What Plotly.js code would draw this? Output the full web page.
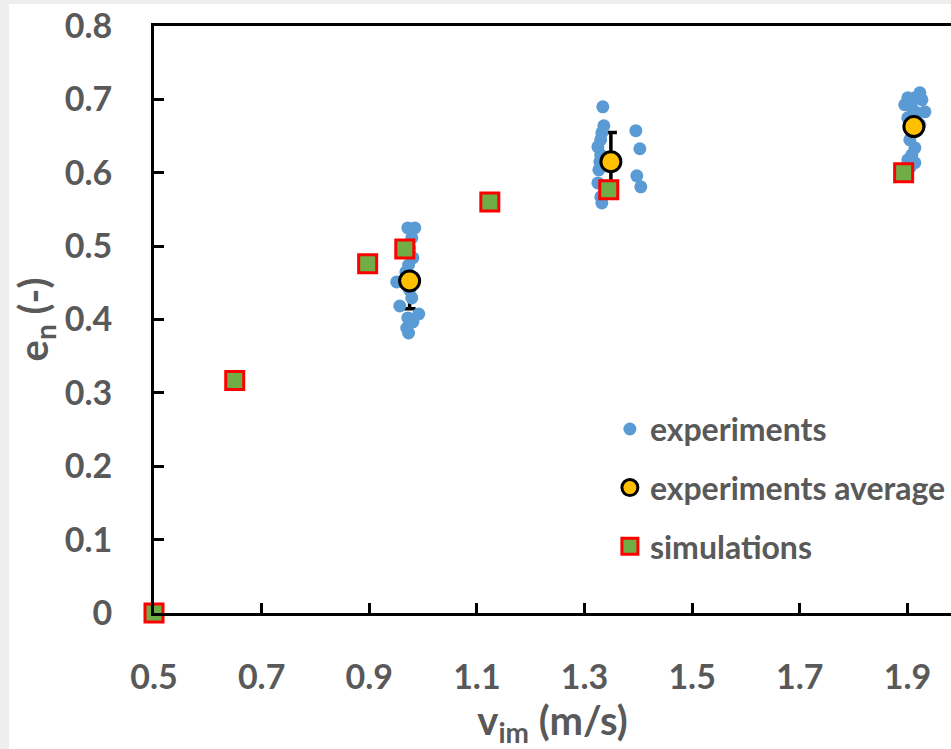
<!DOCTYPE html>
<html>
<head>
<meta charset="utf-8">
<script src="https://cdn.plot.ly/plotly-3.0.1.min.js"></script>
<style>
  html, body { margin: 0; padding: 0; background: #efeeee; width: 951px; height: 749px; overflow: hidden; }
  #chart { position: absolute; left: 9px; top: 4px; width: 942px; height: 745px; background: #ffffff; }
</style>
</head>
<body>
<div id="chart"></div>
<script>
// Experiments (individual measurements)
const expX = [
  0.9716, 0.9846, 0.979, 0.975, 0.981, 0.973, 0.951, 0.968, 0.975, 0.979, 0.9567, 0.992, 0.9716, 0.981, 0.9697, 0.973,
  1.334, 1.3359, 1.3322, 1.330, 1.3248, 1.330, 1.3284, 1.3266, 1.3248, 1.3302, 1.3322,
  1.3954, 1.4028, 1.3972, 1.4046,
  1.9232, 1.9007, 1.9139, 1.927, 1.895, 1.9082, 1.9175, 1.9325, 1.9007, 1.9139, 1.9232, 1.9045, 1.9139, 1.9082, 1.9007, 1.9139, 1.9045
];
const expY = [
  0.5248, 0.5248, 0.5112, 0.4975, 0.4839, 0.4743, 0.4512, 0.4648, 0.4403, 0.4294, 0.4184, 0.4075, 0.4021, 0.3966, 0.3884, 0.3816,
  0.6899, 0.6640, 0.6545, 0.6450, 0.6354, 0.6245, 0.6150, 0.6040, 0.5862, 0.5670, 0.5589,
  0.6573, 0.6327, 0.5958, 0.5808,
  0.7090, 0.7022, 0.7022, 0.6995, 0.6927, 0.6886, 0.6818, 0.6831, 0.6749, 0.6722, 0.6654, 0.6449, 0.6340, 0.6245, 0.6177, 0.6136, 0.6068
];

// Experiments average with error bars
const avgX = [0.975, 1.349, 1.912];
const avgY = [0.4525, 0.615, 0.663];
const avgErr = [0.038, 0.040, 0.010];

// Simulations
const simX = [0.5, 0.65, 0.897, 0.966, 1.124, 1.345, 1.893];
const simY = [0.0, 0.317, 0.476, 0.496, 0.560, 0.577, 0.600];

// Axis ticks
const xTicks = [0.5, 0.7, 0.9, 1.1, 1.3, 1.5, 1.7, 1.9];
const xTickText = ['0.5', '0.7', '0.9', '1.1', '1.3', '1.5', '1.7', '1.9'];
const yTicks = [0, 0.1, 0.2, 0.3, 0.4, 0.5, 0.6, 0.7, 0.8];
const yTickText = ['0', '0.1', '0.2', '0.3', '0.4', '0.5', '0.6', '0.7', '0.8'];

const FONT = 'Lato, "Open Sans", sans-serif';
const GREY = '#595959';

const traces = [
  // error bars of the averages, drawn underneath the individual measurements
  {
    x: avgX, y: avgY, type: 'scatter', mode: 'markers', name: 'experiments average',
    showlegend: false, hoverinfo: 'skip',
    marker: { color: 'rgba(0,0,0,0)', size: 1, line: { width: 0 } },
    error_y: { type: 'data', array: avgErr, visible: true, color: '#000000', thickness: 3.5, width: 6 },
    cliponaxis: false
  },
  {
    x: expX, y: expY, type: 'scatter', mode: 'markers', name: 'experiments',
    legendgroup: 'a',
    marker: { color: '#5b9bd5', size: 13, line: { width: 0 } },
    cliponaxis: false
  },
  {
    x: avgX, y: avgY, type: 'scatter', mode: 'markers', name: 'experiments average',
    legendgroup: 'b',
    marker: { color: '#ffc000', size: 20, line: { color: '#000000', width: 3 } },
    cliponaxis: false
  },
  {
    x: simX, y: simY, type: 'scatter', mode: 'markers', name: 'simulations',
    legendgroup: 'c',
    marker: { color: '#70ad47', symbol: 'square', size: 18, line: { color: '#ff0000', width: 3 } },
    cliponaxis: false
  }
];

const layout = {
  width: 942, height: 745,
  margin: { l: 145, r: 0, t: 22, b: 136, pad: 0 },
  paper_bgcolor: '#ffffff', plot_bgcolor: '#ffffff',
  font: { family: FONT, size: 32, color: GREY, weight: 'bold' },
  showlegend: true,
  legend: {
    x: 0.572, xanchor: 'left', y: 0.36, yanchor: 'top',
    bgcolor: 'rgba(0,0,0,0)', traceorder: 'grouped', tracegroupgap: 14,
    font: { family: FONT, size: 32, color: GREY, weight: 'bold' },
    itemsizing: 'trace'
  },
  xaxis: {
    range: [0.5, 1.981], tickmode: 'array', tickvals: xTicks, ticktext: xTickText,
    showgrid: false, zeroline: false, showline: true, linecolor: '#000000', linewidth: 3,
    mirror: true, ticks: 'inside', ticklen: 10, tickwidth: 3, tickcolor: '#000000',
    ticklabelstandoff: 32, ticklabeloverflow: 'allow',
    tickfont: { family: FONT, size: 34, color: GREY, weight: 'bold' },
    title: { text: 'v<sub>im</sub> (m/s)', standoff: 12, font: { family: FONT, size: 40, color: GREY, weight: 'bold' } }
  },
  yaxis: {
    range: [0, 0.8], tickmode: 'array', tickvals: yTicks, ticktext: yTickText,
    showgrid: false, zeroline: false, showline: true, linecolor: '#000000', linewidth: 3,
    mirror: false, ticks: 'inside', ticklen: 10, tickwidth: 3, tickcolor: '#000000',
    ticklabelstandoff: 32, ticklabeloverflow: 'allow',
    tickfont: { family: FONT, size: 34, color: GREY, weight: 'bold' },
    title: { text: 'e<sub>n</sub> (-)', standoff: 8, font: { family: FONT, size: 40, color: GREY, weight: 'bold' } }
  }
};

Plotly.newPlot('chart', traces, layout, { displayModeBar: false, staticPlot: true });
</script>
</body>
</html>
